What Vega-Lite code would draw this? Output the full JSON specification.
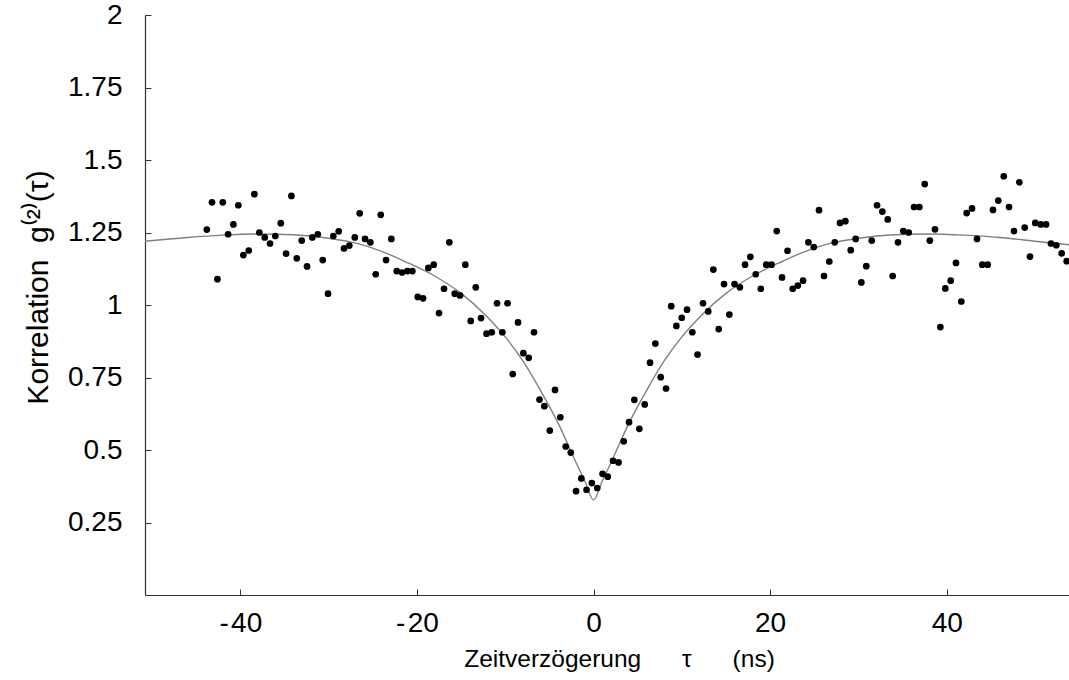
{
  "$schema": "https://vega.github.io/schema/vega-lite/v6.json",
  "width": 924,
  "height": 580,
  "autosize": {"type": "none"},
  "padding": {"left": 145, "top": 15, "right": 0, "bottom": 85},
  "background": "white",
  "config": {
    "view": {"stroke": null},
    "font": "Liberation Sans",
    "axis": {
      "grid": false,
      "domainColor": "#333333",
      "domainWidth": 1.2,
      "tickColor": "#333333",
      "tickWidth": 1,
      "labelColor": "black",
      "titleColor": "black",
      "labelFont": "Liberation Sans",
      "titleFont": "Liberation Sans",
      "labelFontSize": 28,
      "titleFontSize": 24,
      "titleFontWeight": "normal"
    }
  },
  "datasets": {
    "points": [
      {"tau": -43.80, "g2": 1.260}, {"tau": -43.21, "g2": 1.354}, {"tau": -42.60, "g2": 1.089}, {"tau": -41.99, "g2": 1.354},
      {"tau": -41.39, "g2": 1.244}, {"tau": -40.79, "g2": 1.278}, {"tau": -40.23, "g2": 1.344}, {"tau": -39.66, "g2": 1.172},
      {"tau": -39.05, "g2": 1.188}, {"tau": -38.41, "g2": 1.382}, {"tau": -37.85, "g2": 1.250}, {"tau": -37.24, "g2": 1.233},
      {"tau": -36.64, "g2": 1.212}, {"tau": -36.04, "g2": 1.238}, {"tau": -35.42, "g2": 1.282}, {"tau": -34.82, "g2": 1.177},
      {"tau": -34.22, "g2": 1.376}, {"tau": -33.61, "g2": 1.161}, {"tau": -33.05, "g2": 1.222}, {"tau": -32.45, "g2": 1.133},
      {"tau": -31.85, "g2": 1.233}, {"tau": -31.23, "g2": 1.244}, {"tau": -30.67, "g2": 1.155}, {"tau": -30.07, "g2": 1.039},
      {"tau": -29.47, "g2": 1.238}, {"tau": -28.86, "g2": 1.254}, {"tau": -28.26, "g2": 1.195}, {"tau": -27.66, "g2": 1.205},
      {"tau": -27.04, "g2": 1.233}, {"tau": -26.48, "g2": 1.316}, {"tau": -25.88, "g2": 1.228}, {"tau": -25.28, "g2": 1.216},
      {"tau": -24.67, "g2": 1.106}, {"tau": -24.10, "g2": 1.311}, {"tau": -23.50, "g2": 1.155}, {"tau": -22.90, "g2": 1.228},
      {"tau": -22.29, "g2": 1.117}, {"tau": -21.69, "g2": 1.112}, {"tau": -21.09, "g2": 1.117}, {"tau": -20.52, "g2": 1.117},
      {"tau": -19.91, "g2": 1.028}, {"tau": -19.31, "g2": 1.023}, {"tau": -18.71, "g2": 1.128}, {"tau": -18.10, "g2": 1.139},
      {"tau": -17.50, "g2": 0.972}, {"tau": -16.93, "g2": 1.056}, {"tau": -16.33, "g2": 1.216}, {"tau": -15.72, "g2": 1.039},
      {"tau": -15.12, "g2": 1.033}, {"tau": -14.52, "g2": 1.139}, {"tau": -13.91, "g2": 0.945}, {"tau": -13.34, "g2": 1.061},
      {"tau": -12.74, "g2": 0.955}, {"tau": -12.12, "g2": 0.901}, {"tau": -11.53, "g2": 0.906}, {"tau": -10.93, "g2": 1.006},
      {"tau": -10.33, "g2": 0.906}, {"tau": -9.74, "g2": 1.006}, {"tau": -9.15, "g2": 0.762}, {"tau": -8.55, "g2": 0.940},
      {"tau": -7.95, "g2": 0.834}, {"tau": -7.34, "g2": 0.818}, {"tau": -6.74, "g2": 0.906}, {"tau": -6.12, "g2": 0.674},
      {"tau": -5.57, "g2": 0.651}, {"tau": -4.95, "g2": 0.567}, {"tau": -4.36, "g2": 0.707}, {"tau": -3.76, "g2": 0.613},
      {"tau": -3.15, "g2": 0.512}, {"tau": -2.58, "g2": 0.491}, {"tau": -1.98, "g2": 0.358}, {"tau": -1.38, "g2": 0.402},
      {"tau": -0.79, "g2": 0.363}, {"tau": -0.19, "g2": 0.386}, {"tau": 0.42, "g2": 0.369}, {"tau": 1.02, "g2": 0.418},
      {"tau": 1.61, "g2": 0.408}, {"tau": 2.21, "g2": 0.463}, {"tau": 2.83, "g2": 0.457}, {"tau": 3.42, "g2": 0.530},
      {"tau": 4.02, "g2": 0.596}, {"tau": 4.62, "g2": 0.673}, {"tau": 5.19, "g2": 0.573}, {"tau": 5.80, "g2": 0.657},
      {"tau": 6.40, "g2": 0.801}, {"tau": 7.00, "g2": 0.867}, {"tau": 7.61, "g2": 0.751}, {"tau": 8.21, "g2": 0.712},
      {"tau": 8.80, "g2": 0.996}, {"tau": 9.38, "g2": 0.928}, {"tau": 9.99, "g2": 0.956}, {"tau": 10.59, "g2": 0.984},
      {"tau": 11.19, "g2": 0.906}, {"tau": 11.78, "g2": 0.829}, {"tau": 12.40, "g2": 1.006}, {"tau": 12.99, "g2": 0.978},
      {"tau": 13.57, "g2": 1.122}, {"tau": 14.18, "g2": 0.917}, {"tau": 14.78, "g2": 1.072}, {"tau": 15.38, "g2": 0.967},
      {"tau": 15.97, "g2": 1.072}, {"tau": 16.57, "g2": 1.061}, {"tau": 17.16, "g2": 1.139}, {"tau": 17.76, "g2": 1.166},
      {"tau": 18.37, "g2": 1.106}, {"tau": 18.95, "g2": 1.056}, {"tau": 19.56, "g2": 1.139}, {"tau": 20.16, "g2": 1.139},
      {"tau": 20.75, "g2": 1.255}, {"tau": 21.35, "g2": 1.095}, {"tau": 21.97, "g2": 1.187}, {"tau": 22.56, "g2": 1.056},
      {"tau": 23.14, "g2": 1.067}, {"tau": 23.73, "g2": 1.084}, {"tau": 24.33, "g2": 1.216}, {"tau": 24.94, "g2": 1.200},
      {"tau": 25.54, "g2": 1.327}, {"tau": 26.10, "g2": 1.100}, {"tau": 26.70, "g2": 1.150}, {"tau": 27.32, "g2": 1.216},
      {"tau": 27.92, "g2": 1.283}, {"tau": 28.52, "g2": 1.289}, {"tau": 29.13, "g2": 1.189}, {"tau": 29.69, "g2": 1.228},
      {"tau": 30.33, "g2": 1.078}, {"tau": 30.89, "g2": 1.134}, {"tau": 31.51, "g2": 1.222}, {"tau": 32.11, "g2": 1.344},
      {"tau": 32.71, "g2": 1.322}, {"tau": 33.32, "g2": 1.295}, {"tau": 33.88, "g2": 1.100}, {"tau": 34.48, "g2": 1.216},
      {"tau": 35.08, "g2": 1.255}, {"tau": 35.70, "g2": 1.250}, {"tau": 36.30, "g2": 1.338}, {"tau": 36.90, "g2": 1.338},
      {"tau": 37.51, "g2": 1.417}, {"tau": 38.09, "g2": 1.222}, {"tau": 38.67, "g2": 1.261}, {"tau": 39.28, "g2": 0.924},
      {"tau": 39.84, "g2": 1.057}, {"tau": 40.45, "g2": 1.084}, {"tau": 41.05, "g2": 1.145}, {"tau": 41.65, "g2": 1.012},
      {"tau": 42.26, "g2": 1.317}, {"tau": 42.87, "g2": 1.333}, {"tau": 43.43, "g2": 1.228}, {"tau": 44.03, "g2": 1.139},
      {"tau": 44.64, "g2": 1.139}, {"tau": 45.24, "g2": 1.328}, {"tau": 45.84, "g2": 1.360}, {"tau": 46.46, "g2": 1.444},
      {"tau": 47.06, "g2": 1.338}, {"tau": 47.62, "g2": 1.255}, {"tau": 48.22, "g2": 1.423}, {"tau": 48.83, "g2": 1.267},
      {"tau": 49.43, "g2": 1.167}, {"tau": 50.03, "g2": 1.283}, {"tau": 50.65, "g2": 1.278}, {"tau": 51.25, "g2": 1.278},
      {"tau": 51.81, "g2": 1.212}, {"tau": 52.41, "g2": 1.206}, {"tau": 53.02, "g2": 1.178}, {"tau": 53.59, "g2": 1.151}
    ],
    "fit": [
      {"tau": -50.8, "g2": 1.220}, {"tau": -46, "g2": 1.233}, {"tau": -42, "g2": 1.241}, {"tau": -38, "g2": 1.245},
      {"tau": -34, "g2": 1.242}, {"tau": -30, "g2": 1.230}, {"tau": -27, "g2": 1.214}, {"tau": -24, "g2": 1.185},
      {"tau": -21, "g2": 1.145}, {"tau": -18, "g2": 1.100}, {"tau": -15, "g2": 1.040}, {"tau": -12, "g2": 0.958},
      {"tau": -10, "g2": 0.890}, {"tau": -8, "g2": 0.807}, {"tau": -6, "g2": 0.705}, {"tau": -4, "g2": 0.592},
      {"tau": -2, "g2": 0.458}, {"tau": -1, "g2": 0.394}, {"tau": 0, "g2": 0.328}, {"tau": 1, "g2": 0.394},
      {"tau": 2, "g2": 0.458}, {"tau": 4, "g2": 0.592}, {"tau": 6, "g2": 0.705}, {"tau": 8, "g2": 0.807},
      {"tau": 10, "g2": 0.890}, {"tau": 12, "g2": 0.958}, {"tau": 15, "g2": 1.040}, {"tau": 18, "g2": 1.100},
      {"tau": 21, "g2": 1.145}, {"tau": 24, "g2": 1.185}, {"tau": 27, "g2": 1.214}, {"tau": 30, "g2": 1.230},
      {"tau": 34, "g2": 1.242}, {"tau": 38, "g2": 1.245}, {"tau": 42, "g2": 1.241}, {"tau": 46, "g2": 1.233},
      {"tau": 50, "g2": 1.220}, {"tau": 53.85, "g2": 1.208}
    ]
  },
  "layer": [
    {
      "data": {"name": "fit"},
      "mark": {"type": "line", "color": "#808080", "strokeWidth": 1.4, "interpolate": "monotone"},
      "encoding": {
        "x": {"field": "tau", "type": "quantitative",
          "scale": {"domain": [-50.8, 53.85], "nice": false, "zero": false},
          "axis": {
            "values": [-40, -20, 0, 20, 40],
            "labelExpr": "datum.value < 0 ? '-\u200a' + abs(datum.value) : toString(datum.value)",
            "tickSize": -6,
            "labelPadding": 20,
            "title": "Zeitverzögerung\u00a0\u00a0\u00a0\u00a0\u00a0\u00a0τ\u00a0\u00a0\u00a0\u00a0\u00a0\u00a0(ns)",
            "titleFontSize": 24.5,
            "titleX": 474,
            "titleY": 71,
            "titleBaseline": "alphabetic"
          }
        },
        "y": {"field": "g2", "type": "quantitative",
          "scale": {"domain": [0, 2], "nice": false, "zero": false},
          "axis": {
            "values": [0.25, 0.5, 0.75, 1, 1.25, 1.5, 1.75, 2],
            "format": ".2~f",
            "tickSize": -6,
            "labelPadding": 29,
            "title": "Korrelation\u00a0\u00a0g⁽²⁾(τ)",
            "titleFontSize": 30,
            "titleX": -98,
            "titleY": 272,
            "titleBaseline": "alphabetic",
            "titleAngle": -90
          }
        }
      }
    },
    {
      "data": {"name": "points"},
      "mark": {"type": "circle", "color": "black", "opacity": 1, "size": 45},
      "encoding": {
        "x": {"field": "tau", "type": "quantitative"},
        "y": {"field": "g2", "type": "quantitative"}
      }
    }
  ]
}
